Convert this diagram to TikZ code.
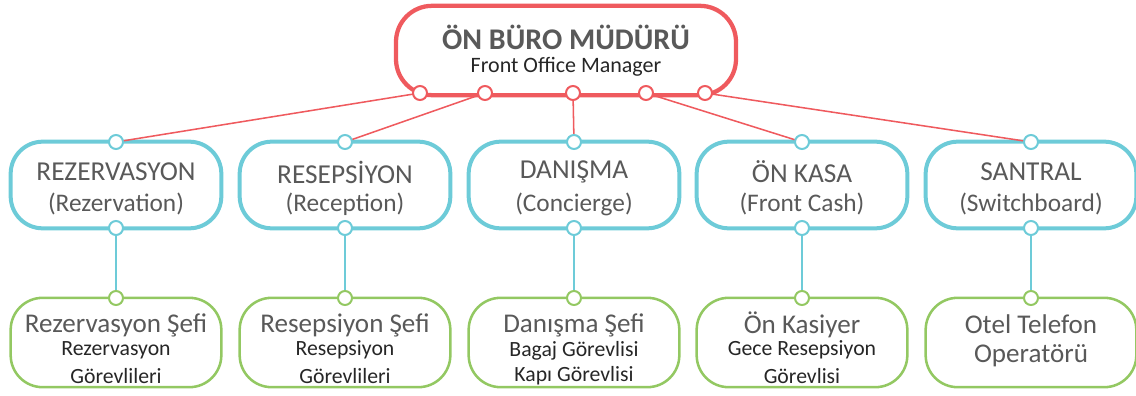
\documentclass[tikz,border=0pt]{standalone}
\usepackage{fontspec}
\setmainfont{Carlito}
\definecolor{cred}{HTML}{EF5A5E}
\definecolor{ccyan}{HTML}{6DCBD8}
\definecolor{cgreen}{HTML}{93C862}
\definecolor{ctext}{HTML}{595959}
\definecolor{cdark}{HTML}{262626}
\tikzset{
  topbox/.style={draw=cred, line width=3.2pt, rounded corners=27pt, minimum width=255pt, minimum height=67pt, inner sep=0pt},
  midbox/.style={draw=ccyan, line width=3pt, rounded corners=24pt, minimum width=158pt, minimum height=65pt, inner sep=0pt},
  lowbox/.style={draw=cgreen, line width=1.9pt, rounded corners=24pt, minimum width=158pt, minimum height=67pt, inner sep=0pt},
  rdot/.style={circle, draw=cred, fill=white, line width=1.5pt, minimum size=10.5pt, inner sep=0pt},
  cdot/.style={circle, draw=ccyan, fill=white, line width=1.5pt, minimum size=10.5pt, inner sep=0pt},
  gdot/.style={circle, draw=cgreen, fill=white, line width=1.5pt, minimum size=10.5pt, inner sep=0pt},
  rline/.style={draw=cred, line width=1.15pt},
  cline/.style={draw=ccyan, line width=1.15pt},
  ttl/.style={text=ctext, font=\fontsize{22.5}{24}\selectfont\bfseries, inner sep=0pt},
  sub/.style={text=cdark, font=\fontsize{16.5}{18}\selectfont, inner sep=0pt},
  midtxt/.style={text=ctext, font=\fontsize{20.5}{22}\selectfont, inner sep=0pt},
  midtxtb/.style={text=ctext, font=\fontsize{19}{21}\selectfont, inner sep=0pt},
  lowbig/.style={text=ctext, font=\fontsize{20.3}{22}\selectfont, inner sep=0pt},
  lowsmall/.style={text=cdark, font=\fontsize{16.3}{18}\selectfont, inner sep=0pt},
}
\begin{document}
\begin{tikzpicture}[x=0.75pt,y=-0.75pt]
\useasboundingbox (0,0) rectangle (1136,396);
% top
\node[topbox] (top) at (566,50.5) {};
\node[ttl] (toptitle) at (566,37) {ÖN BÜRO MÜDÜRÜ};
\node[sub] (topsub) at (566,67) {Front Office Manager};
% mid boxes
\foreach \n/\cx/\a/\b in {m1/116/REZERVASYON/(Rezervation), m2/345/RESEPSİYON/(Reception), m3/574/DANIŞMA/(Concierge), m4/802/ÖN KASA/(Front Cash), m5/1031/SANTRAL/(Switchboard)}{
  \node[midbox] (\n) at (\cx,185) {};
  \node[midtxt] (\n a) at (\cx,172) {\a};
  \node[midtxtb] (\n b) at (\cx,204) {\b};
}
% low boxes
\node[lowbox] (l1) at (116,342.5) {};
\node[lowbig] (l1a) at (116,325) {Rezervasyon Şefi};
\node[lowsmall] (l1b) at (116,350) {Rezervasyon};
\node[lowsmall] (l1c) at (116,376) {Görevlileri};
\node[lowbox] (l2) at (345,342.5) {};
\node[lowbig] (l2a) at (345,325) {Resepsiyon Şefi};
\node[lowsmall] (l2b) at (345,350) {Resepsiyon};
\node[lowsmall] (l2c) at (345,376) {Görevlileri};
\node[lowbox] (l3) at (574,342.5) {};
\node[lowbig] (l3a) at (574,325) {Danışma Şefi};
\node[lowsmall] (l3b) at (574,351) {Bagaj Görevlisi};
\node[lowsmall] (l3c) at (574,376) {Kapı Görevlisi};
\node[lowbox] (l4) at (802,342.5) {};
\node[lowbig] (l4a) at (802,325) {Ön Kasiyer};
\node[lowsmall] (l4b) at (802,350) {Gece Resepsiyon};
\node[lowsmall] (l4c) at (802,376) {Görevlisi};
\node[lowbox] (l5) at (1031,342.5) {};
\node[lowbig] (l5a) at (1031,324) {Otel Telefon};
\node[lowbig] (l5b) at (1031,356) {Operatörü};
% dots
\foreach \i/\x in {1/420,2/485,3/573,4/646,5/705}{
  \coordinate (r\i) at (\x,93);
}
\foreach \i/\x in {1/116,2/345,3/574,4/802,5/1031}{
  \coordinate (t\i) at (\x,142);
  \coordinate (b\i) at (\x,228);
  \coordinate (g\i) at (\x,298);
}
% connectors
\foreach \i in {1,...,5}{
  \draw[rline] (r\i) -- (t\i);
  \draw[cline] (b\i) -- (g\i);
}
\foreach \i in {1,...,5}{
  \node[rdot] (rd\i) at (r\i) {};
  \node[cdot] (td\i) at (t\i) {};
  \node[cdot] (bd\i) at (b\i) {};
  \node[gdot] (gd\i) at (g\i) {};
}
\end{tikzpicture}
\end{document}
